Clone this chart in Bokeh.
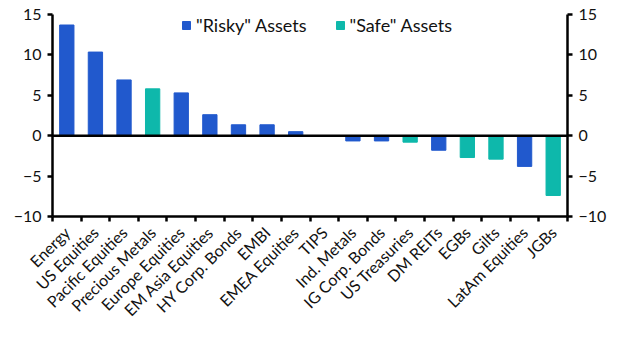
import math
from bokeh.plotting import figure
from bokeh.models import ColumnDataSource, FixedTicker, LinearAxis, Range1d, Span, Legend, LegendItem
from bokeh.embed import file_html
from bokeh.resources import INLINE

categories = ["Energy", "US Equities", "Pacific Equities", "Precious Metals", "Europe Equities",
              "EM Asia Equities", "HY Corp. Bonds", "EMBI", "EMEA Equities", "TIPS", "Ind. Metals",
              "IG Corp. Bonds", "US Treasuries", "DM REITs", "EGBs", "Gilts", "LatAm Equities", "JGBs"]
values = [13.7, 10.35, 6.9, 5.8, 5.3, 2.6, 1.35, 1.35, 0.5, 0.0, -0.65, -0.65, -0.8, -1.8,
          -2.7, -2.9, -3.8, -7.4]
groups = ["Risky", "Risky", "Risky", "Safe", "Risky", "Risky", "Risky", "Risky", "Risky", "Safe",
          "Risky", "Risky", "Safe", "Risky", "Safe", "Safe", "Risky", "Safe"]
y_ticks = [-10, -5, 0, 5, 10, 15]

BLUE = "#2159CD"
TEAL = "#0EB8AB"
FONT = "Lato"

xs = [i + 0.5 for i in range(len(categories))]

def subset(g):
    idx = [i for i, gg in enumerate(groups) if gg == g]
    return ColumnDataSource(dict(x=[xs[i] for i in idx], top=[values[i] for i in idx]))

p = figure(width=627, height=354, output_backend="svg", toolbar_location=None,
           x_range=Range1d(0, len(categories)), y_range=Range1d(-10, 15),
           min_border_left=52, min_border_right=60, min_border_top=14, min_border_bottom=138,
           x_axis_location=None, y_axis_location=None)
p.outline_line_color = None
p.xgrid.visible = False
p.ygrid.visible = False
p.background_fill_color = "white"
p.border_fill_color = "white"

r1 = p.vbar(x="x", top="top", bottom=0, width=0.5, source=subset("Risky"), color=BLUE)
r2 = p.vbar(x="x", top="top", bottom=0, width=0.5, source=subset("Safe"), color=TEAL)

p.add_layout(Span(location=0, dimension="width", line_color="black", line_width=2.5))

def style_y(ax):
    ax.ticker = FixedTicker(ticks=y_ticks)
    ax.axis_line_width = 2.5
    ax.axis_line_color = "black"
    ax.major_tick_line_width = 2.5
    ax.major_tick_in = 0
    ax.major_tick_out = 5
    ax.minor_tick_line_color = None
    ax.major_label_text_font = FONT
    ax.major_label_text_font_size = "16px"
    ax.major_label_text_color = "#111111"
    ax.major_label_standoff = 6

ly = LinearAxis()
style_y(ly)
p.add_layout(ly, "left")
ry = LinearAxis()
style_y(ry)
p.add_layout(ry, "right")

xa = LinearAxis()
xa.ticker = FixedTicker(ticks=xs, minor_ticks=list(range(len(categories) + 1)))
xa.major_label_overrides = {x: c for x, c in zip(xs, categories)}
xa.major_label_orientation = math.pi / 4
xa.major_tick_in = 0
xa.major_tick_out = 0
xa.minor_tick_in = 0
xa.minor_tick_out = 5
xa.minor_tick_line_width = 2.5
xa.minor_tick_line_color = "black"
xa.axis_line_width = 2.5
xa.axis_line_color = "black"
xa.major_label_text_font = FONT
xa.major_label_text_font_size = "16px"
xa.major_label_text_color = "#111111"
xa.major_label_standoff = 8
p.add_layout(xa, "below")

legend = Legend(items=[LegendItem(label='"Risky" Assets', renderers=[r1]),
                       LegendItem(label='"Safe" Assets', renderers=[r2])],
                orientation="horizontal", location=(129, 180))
legend.border_line_color = None
legend.background_fill_alpha = 0
legend.label_text_font = FONT
legend.label_text_font_size = "18px"
legend.label_text_color = "#111111"
legend.glyph_width = 10
legend.glyph_height = 10
legend.spacing = 28
legend.margin = 0
legend.padding = 0
legend.label_standoff = 5
p.add_layout(legend, "center")

open("out.html", "w").write(file_html(p, INLINE))
